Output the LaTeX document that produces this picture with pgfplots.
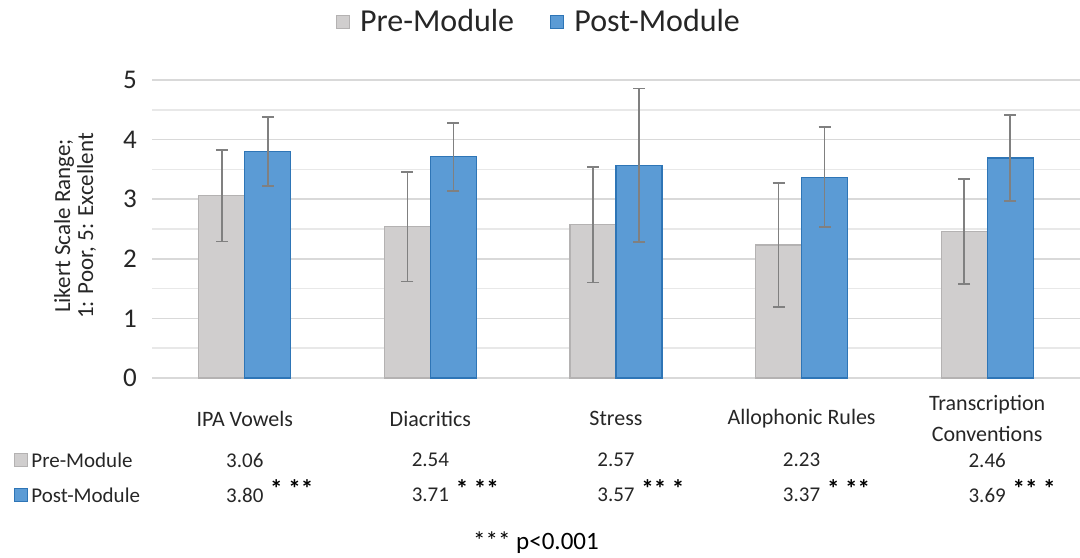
\documentclass[border=0pt]{standalone}
\usepackage{pgfplots}
\pgfplotsset{compat=1.18}
\usepackage{fontspec}
\setmainfont{Carlito}
\definecolor{preC}{HTML}{D0CECE}
\definecolor{preB}{HTML}{B4B2B2}
\definecolor{postC}{HTML}{5B9BD5}
\definecolor{postB}{HTML}{2E75B6}
\definecolor{errC}{HTML}{808080}
\definecolor{gridC}{HTML}{D9D9D9}
\definecolor{txtC}{HTML}{262626}
\begin{document}
\begin{tikzpicture}
\useasboundingbox (-76pt,-89.5pt) rectangle (464pt,189pt);
\begin{axis}[
  at={(0pt,0pt)}, anchor=south west,
  scale only axis, width=464pt, height=149pt,
  ybar=0pt, bar width=23pt,
  xmin=-0.5, xmax=4.5, ymin=0, ymax=5,
  xtick={0,1,2,3,4},
  xticklabels={IPA Vowels,Diacritics,Stress,Allophonic Rules,{Transcription\\Conventions}},
  xticklabel style={align=center, anchor=center, yshift=-16pt, font=\fontsize{11}{15.5}\selectfont, text=txtC},
  major x tick style={draw=none},
  ytick={0,1,2,3,4,5},
  minor ytick={0.5,1.5,2.5,3.5,4.5},
  ymajorgrids, yminorgrids,
  major grid style={gridC, line width=0.8pt},
  minor grid style={gridC!60, line width=0.8pt},
  major y tick style={draw=none}, minor y tick style={draw=none},
  yticklabel style={font=\fontsize{13.5}{15}\selectfont, text=txtC, xshift=-4pt},
  /pgf/number format/assume math mode=true,
  axis x line*=bottom, axis y line*=left,
  y axis line style={draw=none},
  x axis line style={gridC, line width=0.8pt, -},
  ylabel={Likert Scale Range;\\1: Poor, 5: Excellent},
  every axis y label/.style={at={(-38.5pt,76pt)}, rotate=90, anchor=center,
    align=center, font=\fontsize{11.5}{11.5}\selectfont, text=txtC},
  clip=false,
  legend columns=2,
  legend style={at={(0.418,1.195)}, anchor=center, draw=none, fill=none,
    font=\fontsize{16}{18}\selectfont, text=txtC,
    /tikz/every odd column/.append style={column sep=3pt},
    /tikz/every even column/.append style={column sep=16pt}},
  legend image code/.code={\draw[#1] (0pt,-3.25pt) rectangle (6.5pt,3.25pt);},
  error bars/y dir=both, error bars/y explicit,
  error bars/error bar style={errC, line width=0.8pt},
  error bars/error mark options={errC, line width=0.8pt, mark size=3pt, rotate=90},
]
\addplot[fill=preC, draw=preB, line width=0.6pt] coordinates {
  (0,3.06) +- (0,0.77)
  (1,2.54) +- (0,0.92)
  (2,2.57) +- (0,0.97)
  (3,2.23) +- (0,1.04)
  (4,2.46) +- (0,0.88)
};
\addplot[fill=postC, draw=postB, line width=0.6pt] coordinates {
  (0,3.80) +- (0,0.58)
  (1,3.71) +- (0,0.57)
  (2,3.57) +- (0,1.29)
  (3,3.37) +- (0,0.84)
  (4,3.69) +- (0,0.72)
};
\legend{Pre-Module,Post-Module}
% data table
\begin{scope}[every node/.style={font=\fontsize{10.5}{12}\selectfont, text=txtC, inner sep=0pt}]
\node at (axis cs:0,0) [yshift=-41pt] {3.06};
\node at (axis cs:1,0) [yshift=-41pt] {2.54};
\node at (axis cs:2,0) [yshift=-41pt] {2.57};
\node at (axis cs:3,0) [yshift=-41pt] {2.23};
\node at (axis cs:4,0) [yshift=-41pt] {2.46};
\node at (axis cs:0,0) [yshift=-58.5pt] {3.80};
\node at (axis cs:1,0) [yshift=-58.5pt] {3.71};
\node at (axis cs:2,0) [yshift=-58.5pt] {3.57};
\node at (axis cs:3,0) [yshift=-58.5pt] {3.37};
\node at (axis cs:4,0) [yshift=-58.5pt] {3.69};
\end{scope}
\begin{scope}[every node/.style={font=\bfseries\fontsize{12.5}{12}\selectfont, text=black, inner sep=0pt, anchor=west}]
\node at (axis cs:0,0) [xshift=12.5pt, yshift=-55.5pt] {* **};
\node at (axis cs:1,0) [xshift=12.5pt, yshift=-55.5pt] {* **};
\node at (axis cs:2,0) [xshift=12.5pt, yshift=-55.5pt] {** *};
\node at (axis cs:3,0) [xshift=12.5pt, yshift=-55.5pt] {* **};
\node at (axis cs:4,0) [xshift=12.5pt, yshift=-55.5pt] {** *};
\end{scope}
\end{axis}
\node[font=\fontsize{10.5}{12}\selectfont, text=txtC, anchor=west, inner sep=0pt] at (-60.5pt,-41pt) {Pre-Module};
\node[font=\fontsize{10.5}{12}\selectfont, text=txtC, anchor=west, inner sep=0pt] at (-60.5pt,-58.5pt) {Post-Module};
\node[fill=preC, draw=preB, line width=0.5pt, minimum size=6.5pt, inner sep=0pt] at (-65.25pt,-41pt) {};
\node[fill=postC, draw=postB, line width=0.5pt, minimum size=6.5pt, inner sep=0pt] at (-65.25pt,-58.5pt) {};
\node[font=\fontsize{12.5}{13}\selectfont, text=black, inner sep=0pt] at (192pt,-82.5pt) {*** p<0.001};
\end{tikzpicture}
\end{document}
